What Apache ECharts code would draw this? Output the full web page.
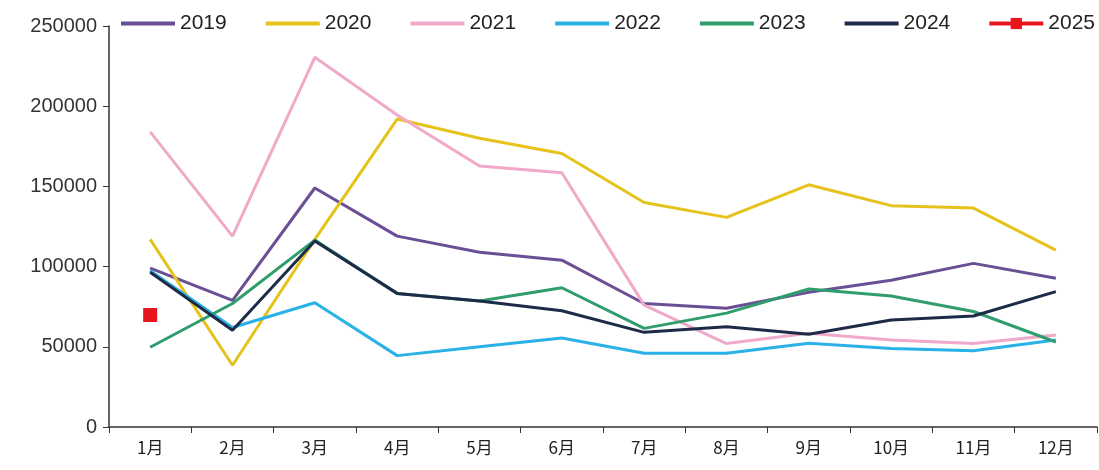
<!DOCTYPE html>
<html><head><meta charset="utf-8">
<script src="https://cdn.jsdelivr.net/npm/echarts@6/dist/echarts.min.js"></script>
<style>html,body{margin:0;padding:0;background:#fff}#c{width:1099px;height:470px}</style>
</head><body><div id="c"></div>
<script>
const months = ['1月','2月','3月','4月','5月','6月','7月','8月','9月','10月','11月','12月'];
const years = ['2019','2020','2021','2022','2023','2024','2025'];
const s2019 = [99000, 79000, 149000, 119000, 109000, 104000, 77000, 74000, 84000, 91500, 102000, 92700];
const s2020 = [117000, 38500, 117000, 192000, 180000, 170500, 140000, 130700, 151000, 138000, 136500, 110300];
const s2021 = [184000, 119000, 230500, 194500, 162700, 158500, 76000, 52000, 58400, 54200, 52000, 57400];
const s2022 = [97500, 62000, 77500, 44500, 50000, 55500, 46000, 46000, 52200, 49000, 47600, 54200];
const s2023 = [49700, 77000, 116500, 83300, 78500, 86800, 61500, 71000, 86000, 81700, 72000, 53000];
const s2024 = [96500, 60300, 116000, 83300, 78500, 72500, 59000, 62500, 57800, 66700, 69200, 84400];
const s2025 = [69800];
const colors = ['#6a4f96','#e6c21c','#f1a9c9','#2ab2e8','#2f9e6c','#1e2b48','#e8141e'];
const yTicks = [0, 50000, 100000, 150000, 200000, 250000];
const all = [s2019, s2020, s2021, s2022, s2023, s2024, s2025];

const series = all.map((d, i) => ({
  name: years[i],
  type: 'line',
  data: d,
  symbol: i === 6 ? 'rect' : 'none',
  symbolSize: 14,
  showSymbol: i === 6,
  lineStyle: {width: 3, color: colors[i]},
  itemStyle: {color: colors[i]},
  z: i === 5 ? 5 : 2
}));

const legendData = years.map((y, i) => i === 6
  ? {name: y}
  : {name: y, itemStyle: {opacity: 0}});

const chart = echarts.init(document.getElementById('c'));
chart.setOption({
  animation: false,
  backgroundColor: '#fff',
  color: colors,
  legend: {
    left: 119, top: 13, padding: 0,
    itemWidth: 54, itemHeight: 14, itemGap: 37,
    lineStyle: {width: 4},
    textStyle: {fontSize: 21, color: '#222', fontFamily: 'Liberation Sans'},
    data: legendData
  },
  grid: {left: 109, right: 2, top: 26, bottom: 43},
  xAxis: {
    type: 'category',
    data: months,
    boundaryGap: true,
    axisLine: {lineStyle: {color: '#333', width: 1.5}},
    axisTick: {show: true, length: 6, inside: false, lineStyle: {color: '#333'}},
    axisLabel: {fontSize: 17, color: '#222', margin: 12, fontFamily: 'Noto Sans CJK SC'}
  },
  yAxis: {
    type: 'value',
    min: yTicks[0], max: yTicks[yTicks.length - 1], interval: 50000,
    axisLine: {show: true, lineStyle: {color: '#333', width: 1.5}},
    axisTick: {show: true, length: 6, lineStyle: {color: '#333'}},
    splitLine: {show: false},
    axisLabel: {fontSize: 20, color: '#333', margin: 12, fontFamily: 'Liberation Sans', formatter: v => String(v)}
  },
  series: series
});
</script></body></html>
